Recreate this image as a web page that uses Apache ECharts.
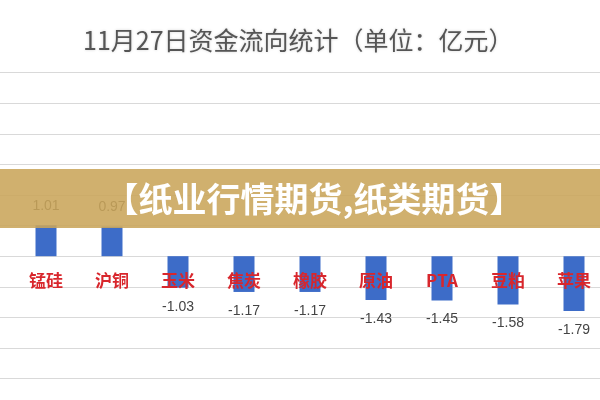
<!DOCTYPE html>
<html><head><meta charset="utf-8">
<script src="https://cdn.jsdelivr.net/npm/echarts@6/dist/echarts.min.js"></script>
<style>html,body{margin:0;padding:0;background:#fff}#c{width:600px;height:400px}</style>
</head><body><div id="c"></div>
<script>
const titleText = '11月27日资金流向统计（单位：亿元）';
const bannerText = '【纸业行情期货,纸类期货】';
const categories = ['锰硅', '沪铜', '玉米', '焦炭', '橡胶', '原油', 'PTA', '豆粕', '苹果'];
const values = [1.01, 0.97, -1.03, -1.17, -1.17, -1.43, -1.45, -1.58, -1.79];
const yMin = -4, yMax = 6, yStep = 1;

const chart = echarts.init(document.getElementById('c'), null, {renderer: 'canvas'});
const gridTop = 72.7, gridH = 305.8;
const zeroOffset = gridH * (0 - yMin) / (yMax - yMin);
chart.setOption({
  backgroundColor: '#ffffff',
  animation: false,
  title: {
    text: titleText, left: 78, top: 23,
    textStyle: {fontFamily: 'Noto Sans CJK SC', fontWeight: 'normal', fontSize: 25, color: '#555555',
      textShadowColor: 'rgba(0,0,0,0.18)', textShadowBlur: 3}
  },
  grid: [
    {left: 13, width: 594, top: gridTop, height: gridH, outerBoundsMode: 'none', containLabel: false},
    {left: 0, right: 0, top: gridTop, height: gridH, outerBoundsMode: 'none', containLabel: false}
  ],
  xAxis: [
    {type: 'category', gridIndex: 0, data: categories, z: 5, position: 'bottom', offset: -zeroOffset,
     axisLine: {show: false, onZero: false}, axisTick: {show: false},
     axisLabel: {color: '#d8262c', fontWeight: 'bold', fontSize: 17, margin: 16,
       fontFamily: 'Noto Sans CJK SC'}},
    {type: 'value', gridIndex: 1, show: false, min: 0, max: 1}
  ],
  yAxis: [
    {type: 'value', gridIndex: 0, min: yMin, max: yMax, interval: yStep, show: true,
     axisLabel: {show: false}, axisLine: {show: false}, axisTick: {show: false}, splitLine: {show: false}},
    {type: 'value', gridIndex: 1, min: yMin, max: yMax, interval: yStep,
     axisLabel: {show: false}, axisLine: {show: false}, axisTick: {show: false},
     splitLine: {show: true, lineStyle: {color: '#d9d9d9', width: 1.2}}}
  ],
  series: [{
    type: 'bar', xAxisIndex: 0, yAxisIndex: 0, barWidth: 21,
    itemStyle: {color: '#3d6cc8'},
    data: values.map(v => ({value: v, label: {position: v >= 0 ? 'top' : 'bottom'}})),
    label: {show: true, distance: 12, fontSize: 14, color: '#444444', fontFamily: 'Liberation Sans'}
  }],
  graphic: [
    {type: 'rect', left: 0, top: 169, z: 100,
     shape: {width: 600, height: 59},
     style: {fill: 'rgba(201,165,90,0.88)'}},
    {type: 'text', x: 314, y: 199, z: 101,
     style: {text: bannerText, fill: '#ffffff', font: 'bold 34px "Noto Sans CJK SC"',
       textAlign: 'center', textVerticalAlign: 'middle',
       shadowColor: 'rgba(0,0,0,0.25)', shadowBlur: 2}}
  ]
});
</script></body></html>
